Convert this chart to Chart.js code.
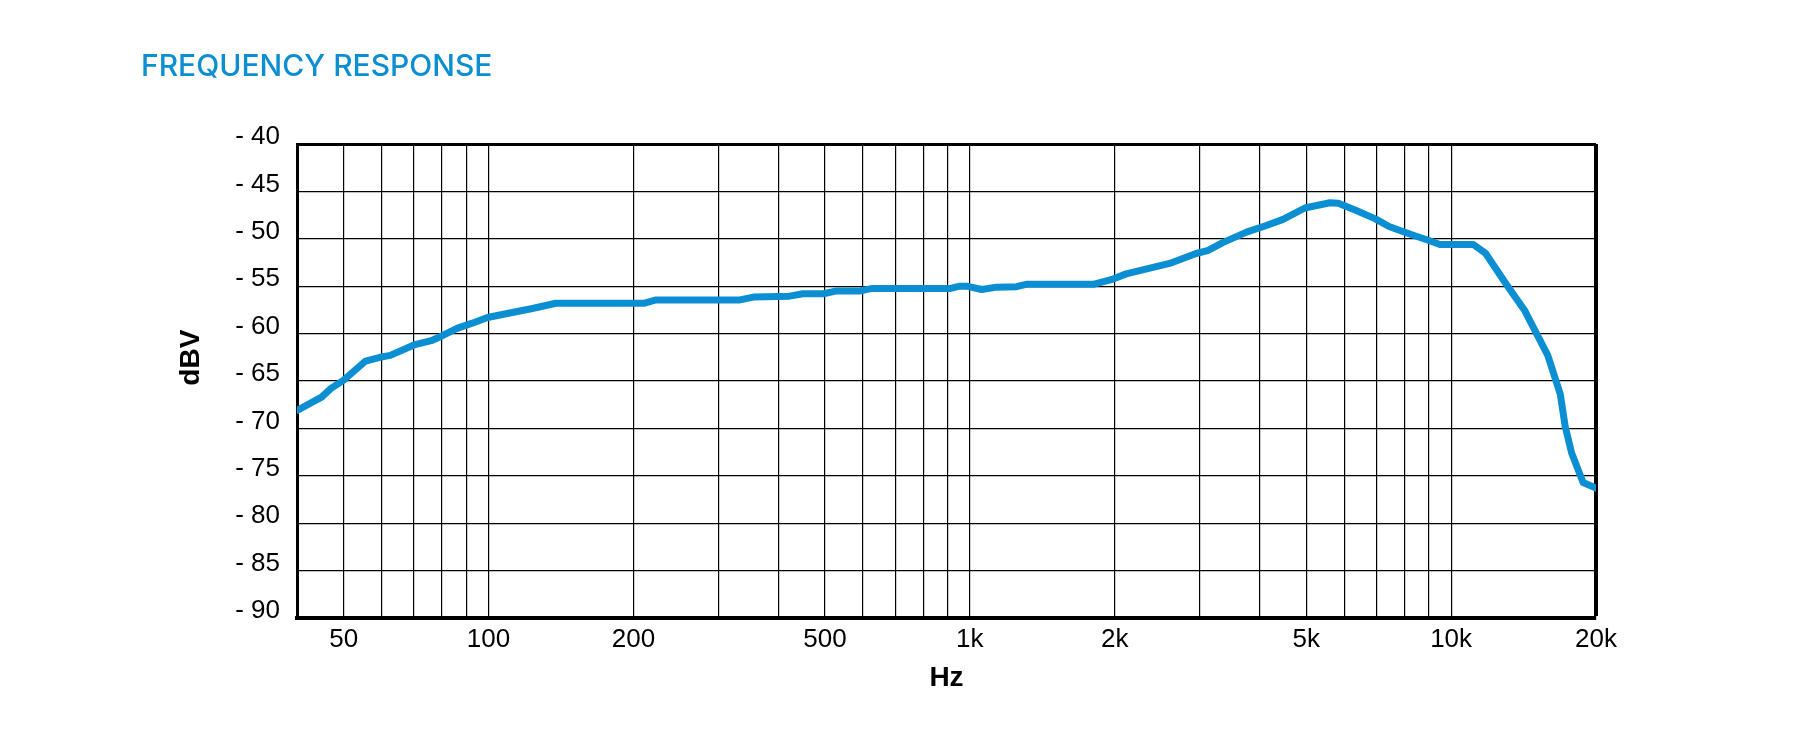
<!DOCTYPE html>
<html>
<head>
<meta charset="utf-8">
<title>Frequency response</title>
<script src="https://cdn.jsdelivr.net/npm/chart.js@4.4.1/dist/chart.umd.min.js"></script>
<style>
  html, body { margin: 0; padding: 0; background: #fff; }
  #wrap { position: relative; width: 1818px; height: 751px; }
</style>
</head>
<body>
<div id="wrap"><canvas id="chart-area"></canvas></div>
<script>
// curve, Hz / dBV
const freqHz = [
  40, 45, 47, 50, 55.5, 59.5, 62.5, 70, 76, 80, 86, 92.5, 99.5, 114, 122, 138,
  210, 223, 333, 355, 422, 450, 496, 529, 591, 624, 908, 953, 984, 1059, 1137,
  1251, 1309, 1806, 1984, 2113, 2600, 2953, 3120, 3354, 3757, 4131, 4475, 4966,
  5600, 5830, 6370, 6960, 7430, 8260, 8960, 9480, 11120, 11780, 13020, 14230,
  15880, 16860, 17260, 17800, 18800, 20000
];
const levelDb = [
  -68.1, -66.7, -65.8, -64.9, -62.9, -62.5, -62.3, -61.2, -60.75, -60.25, -59.45, -58.9, -58.3, -57.7, -57.4, -56.8,
  -56.8, -56.45, -56.45, -56.15, -56.05, -55.8, -55.8, -55.5, -55.5, -55.25, -55.25, -55.0, -55.0, -55.35, -55.1,
  -55.05, -54.8, -54.8, -54.25, -53.7, -52.6, -51.55, -51.25, -50.4, -49.3, -48.6, -47.95, -46.75,
  -46.2, -46.25, -47.05, -47.9, -48.7, -49.55, -50.15, -50.6, -50.6, -51.5, -54.8, -57.6,
  -62.3, -66.4, -69.8, -72.6, -75.7, -76.3
];

// vertical grid lines and the ones that carry a label
const gridHz = [40, 50, 60, 70, 80, 90, 100, 200, 300, 400, 500, 600, 700, 800, 900,
  1000, 2000, 3000, 4000, 5000, 6000, 7000, 8000, 9000, 10000, 20000];
const labelHz = [50, 100, 200, 500, 1000, 2000, 5000, 10000, 20000];
const tickLabels = ['50', '100', '200', '500', '1k', '2k', '5k', '10k', '20k'];

const yMin = -90, yMax = -40, yStep = 5;

const blue = '#0b8fd2';
Chart.defaults.font.family = "'Liberation Sans', Arial, sans-serif";
Chart.defaults.color = '#000';

const points = freqHz.map((f, i) => ({ x: f, y: levelDb[i] }));

window.onload = function() {
  let ctx = document.getElementById('chart-area').getContext('2d');
  new Chart(ctx, {
    type: 'line',
    data: {
      datasets: [{
        data: points,
        borderColor: blue,
        borderWidth: 7,
        pointRadius: 0,
        tension: 0,
        borderJoinStyle: 'round',
        borderCapStyle: 'round'
      }]
    },
    options: {
      responsive: true,
      maintainAspectRatio: false,
      animation: false,
      layout: { padding: { left: 141, top: 0, right: 222, bottom: 0 } },
      plugins: {
        legend: { display: false },
        tooltip: { enabled: false },
        title: {
          display: true,
          text: 'FREQUENCY RESPONSE',
          align: 'start',
          color: blue,
          font: { family: "Inter, 'Liberation Sans', sans-serif", size: 30, weight: 500 },
          padding: { top: 49, bottom: 59 }
        }
      },
      scales: {
        x: {
          type: 'logarithmic',
          min: 40,
          max: 20000,
          afterBuildTicks: (scale) => {
            scale.ticks = gridHz.map(v => ({ value: v }));
          },
          afterFit: (scale) => { scale.height = 133; },
          ticks: {
            autoSkip: false,
            maxRotation: 0,
            padding: 6,
            font: { size: 26 },
            callback: (v) => {
              const k = labelHz.indexOf(v);
              return k >= 0 ? tickLabels[k] : '';
            }
          },
          grid: {
            color: '#000',
            drawTicks: false,
            lineWidth: (c) => (c.tick && c.tick.value === 20000 ? 4 : 1.2)
          },
          border: { display: true, color: '#000', width: 4 },
          title: {
            display: true,
            text: 'Hz',
            font: { size: 28, weight: 'bold' },
            padding: { top: 0, bottom: 56 }
          }
        },
        y: {
          min: yMin,
          max: yMax,
          afterFit: (scale) => { scale.width = 156; },
          ticks: {
            stepSize: yStep,
            padding: 17,
            labelOffset: -7,
            font: { size: 26 },
            callback: (v) => '- ' + Math.abs(v)
          },
          grid: {
            color: '#000',
            drawTicks: false,
            lineWidth: (c) => (c.tick && c.tick.value === yMax ? 3 : 1.2)
          },
          border: { display: true, color: '#000', width: 3 },
          title: {
            display: true,
            text: '      dBV',
            font: { size: 28, weight: 'bold' },
            padding: { top: 33, bottom: 0 }
          }
        }
      }
    }
  });
}
</script>
</body>
</html>
